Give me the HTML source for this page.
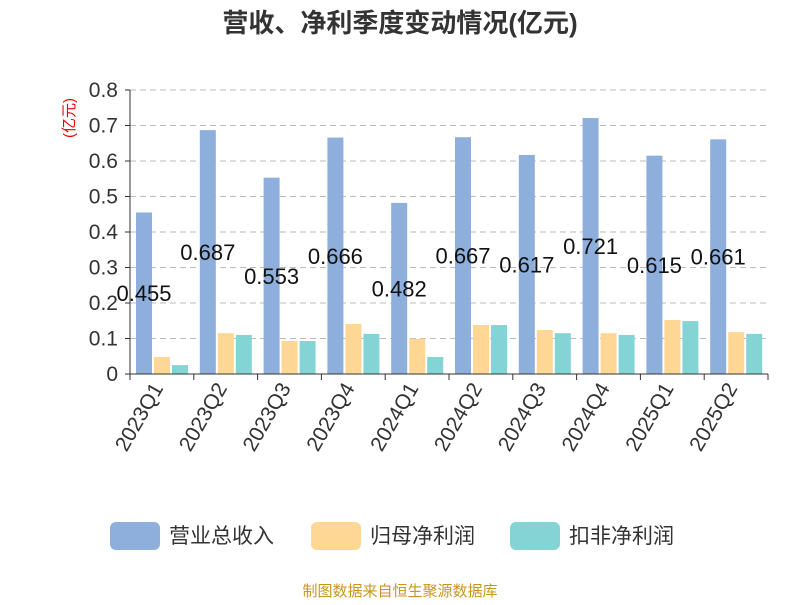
<!DOCTYPE html>
<html><head><meta charset="utf-8"><style>
body{margin:0;background:#fff;font-family:"Liberation Sans","Noto Sans CJK SC",sans-serif}
</style></head><body>
<svg id="c" width="800" height="600" xmlns="http://www.w3.org/2000/svg" font-family="Liberation Sans, Noto Sans CJK SC, sans-serif"></svg>
<script>
const categories=["2023Q1","2023Q2","2023Q3","2023Q4","2024Q1","2024Q2","2024Q3","2024Q4","2025Q1","2025Q2"];
const revenue=[0.455,0.687,0.553,0.666,0.482,0.667,0.617,0.721,0.615,0.661];
const netProfit=[0.048,0.115,0.093,0.141,0.099,0.138,0.124,0.115,0.152,0.118];
const deductedProfit=[0.025,0.110,0.093,0.113,0.048,0.138,0.115,0.110,0.149,0.113];
const yTicks=[0,0.1,0.2,0.3,0.4,0.5,0.6,0.7,0.8];
const seriesNames=["营业总收入","归母净利润","扣非净利润"];
const colors=["#8eaedb","#fed795","#85d4d5"];
const svg=document.getElementById('c');
const NS="http://www.w3.org/2000/svg";
function mk(tag,attrs,parent){const e=document.createElementNS(NS,tag);for(const k in attrs)e.setAttribute(k,attrs[k]);(parent||svg).appendChild(e);return e;}
const x0=130,x1=768,y0=374,yTop=90,yMax=0.8;
const bw=(x1-x0)/categories.length;
const y=v=>y0-(v/yMax)*(y0-yTop);
let t=mk('text',{x:400,y:32,'text-anchor':'middle','font-size':26,'font-weight':'bold',fill:'#333'});t.textContent="营收、净利季度变动情况(亿元)";

t=mk('text',{transform:'translate(74,118) rotate(-90)','text-anchor':'middle','font-size':15,fill:'#e00'});t.textContent="(亿元)";

yTicks.forEach(v=>{
 if(v>0){const g=mk('line',{x1:x0,x2:x1,y1:y(v),y2:y(v),stroke:'#bbb','stroke-dasharray':'6,4'});
 }
 const tk=mk('line',{x1:x0-5,x2:x0,y1:y(v),y2:y(v),stroke:'#333'});
 
 const l=mk('text',{x:x0-12,y:y(v)+7,'text-anchor':'end','font-size':21,fill:'#333'});l.textContent=String(v);
 
});
let a=mk('line',{x1:x0,x2:x0,y1:yTop,y2:y0,stroke:'#333'});
const series=[revenue,netProfit,deductedProfit];
categories.forEach((c,i)=>{
 const cx=x0+bw*i;
 series.forEach((s,j)=>{
  const r=mk('rect',{x:cx+6+j*18,y:y(s[i]),width:16,height:y0-y(s[i]),fill:colors[j]});
  
 });
 const lb=mk('text',{x:cx+14,y:(y(revenue[i])+y0)/2+8,'text-anchor':'middle','font-size':22,fill:'#111'});lb.textContent=revenue[i].toFixed(3);
 
 const tk=mk('line',{x1:cx,x2:cx,y1:y0,y2:y0+6,stroke:'#333'});
 
 const xl=mk('text',{transform:`translate(${cx+bw/2+2},${y0+14}) rotate(-60)`,'text-anchor':'end','font-size':21,fill:'#333'});xl.textContent=c;
 
});
let tk=mk('line',{x1:x1,x2:x1,y1:y0,y2:y0+6,stroke:'#333'});
a=mk('line',{x1:x0,x2:x1,y1:y0,y2:y0,stroke:'#333'});
const lx=[110,311,510];
seriesNames.forEach((n,j)=>{
 const r=mk('rect',{x:lx[j],y:522,width:50,height:28,rx:6,fill:colors[j]});
 
 const l=mk('text',{x:lx[j]+59,y:543,'font-size':21,fill:'#333'});l.textContent=n;
 
});
t=mk('text',{x:400,y:596,'text-anchor':'middle','font-size':15,fill:'#c8961e'});t.textContent="制图数据来自恒生聚源数据库";

</script>
</body></html>
